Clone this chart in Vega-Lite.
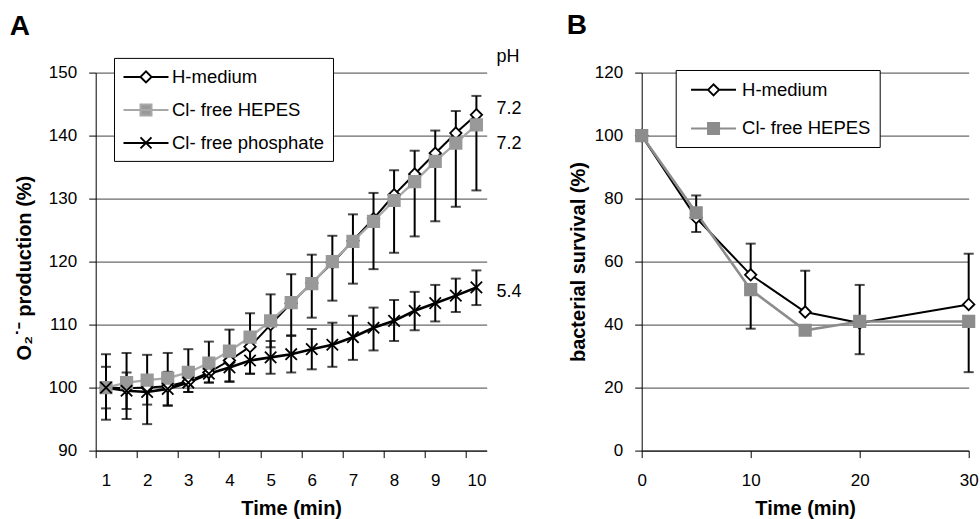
{
  "$schema": "https://vega.github.io/schema/vega-lite/v6.json",
  "padding": {"left": 9.7, "top": 11.6, "right": 0, "bottom": 0},
  "background": "#ffffff",
  "config": {
    "font": "Liberation Sans",
    "view": {"stroke": null},
    "axis": {
      "labelFont": "Liberation Sans", "labelFontSize": 17, "labelColor": "#000",
      "titleFont": "Liberation Sans", "titleFontSize": 20, "titleFontWeight": "bold", "titleColor": "#000",
      "domainColor": "#000", "domainWidth": 1, "tickColor": "#000", "tickWidth": 1, "tickSize": 7,
      "gridColor": "#444", "gridWidth": 1, "labelPadding": 12, "labelFlush": false, "labelOverlap": false
    },
    "axisX": {"grid": false, "labelPadding": 15, "titlePadding": 9.5}
  },
  "datasets": {
    "o2": [
      {"series": "H-medium", "time": 1, "value": 100.0, "lower": 100.0, "upper": 105.3},
      {"series": "H-medium", "time": 1.5, "value": 99.9, "lower": 99.9, "upper": 105.5},
      {"series": "H-medium", "time": 2, "value": 100.0, "lower": 100.0, "upper": 105.2},
      {"series": "H-medium", "time": 2.5, "value": 100.2, "lower": 100.2, "upper": 105.5},
      {"series": "H-medium", "time": 3, "value": 101.0, "lower": 101.0, "upper": 106.1},
      {"series": "H-medium", "time": 3.5, "value": 102.4, "lower": 102.4, "upper": 107.3},
      {"series": "H-medium", "time": 4, "value": 104.3, "lower": 104.3, "upper": 109.2},
      {"series": "H-medium", "time": 4.5, "value": 106.5, "lower": 106.5, "upper": 111.8},
      {"series": "H-medium", "time": 5, "value": 110.0, "lower": 110.0, "upper": 114.8},
      {"series": "H-medium", "time": 5.5, "value": 113.4, "lower": 113.4, "upper": 118.0},
      {"series": "H-medium", "time": 6, "value": 116.6, "lower": 116.6, "upper": 121.1},
      {"series": "H-medium", "time": 6.5, "value": 119.8, "lower": 119.8, "upper": 124.1},
      {"series": "H-medium", "time": 7, "value": 123.3, "lower": 123.3, "upper": 127.5},
      {"series": "H-medium", "time": 7.5, "value": 126.8, "lower": 126.8, "upper": 130.9},
      {"series": "H-medium", "time": 8, "value": 130.6, "lower": 130.6, "upper": 134.5},
      {"series": "H-medium", "time": 8.5, "value": 133.9, "lower": 133.9, "upper": 137.6},
      {"series": "H-medium", "time": 9, "value": 137.2, "lower": 137.2, "upper": 140.8},
      {"series": "H-medium", "time": 9.5, "value": 140.4, "lower": 140.4, "upper": 143.9},
      {"series": "H-medium", "time": 10, "value": 143.3, "lower": 143.3, "upper": 146.3},
      {"series": "Cl- free HEPES", "time": 1, "value": 100.0, "lower": 94.9, "upper": 100.0},
      {"series": "Cl- free HEPES", "time": 1.5, "value": 100.8, "lower": 95.0, "upper": 100.8},
      {"series": "Cl- free HEPES", "time": 2, "value": 101.2, "lower": 94.2, "upper": 101.2},
      {"series": "Cl- free HEPES", "time": 2.5, "value": 101.5, "lower": 97.2, "upper": 101.5},
      {"series": "Cl- free HEPES", "time": 3, "value": 102.4, "lower": 99.3, "upper": 102.4},
      {"series": "Cl- free HEPES", "time": 3.5, "value": 103.9, "lower": 100.8, "upper": 103.9},
      {"series": "Cl- free HEPES", "time": 4, "value": 105.8, "lower": 100.9, "upper": 105.8},
      {"series": "Cl- free HEPES", "time": 4.5, "value": 108.0, "lower": 102.2, "upper": 108.0},
      {"series": "Cl- free HEPES", "time": 5, "value": 110.6, "lower": 106.4, "upper": 110.6},
      {"series": "Cl- free HEPES", "time": 5.5, "value": 113.5, "lower": 108.3, "upper": 113.5},
      {"series": "Cl- free HEPES", "time": 6, "value": 116.5, "lower": 111.1, "upper": 116.5},
      {"series": "Cl- free HEPES", "time": 6.5, "value": 120.0, "lower": 113.8, "upper": 120.0},
      {"series": "Cl- free HEPES", "time": 7, "value": 123.2, "lower": 116.5, "upper": 123.2},
      {"series": "Cl- free HEPES", "time": 7.5, "value": 126.4, "lower": 118.8, "upper": 126.4},
      {"series": "Cl- free HEPES", "time": 8, "value": 129.7, "lower": 121.4, "upper": 129.7},
      {"series": "Cl- free HEPES", "time": 8.5, "value": 132.7, "lower": 124.0, "upper": 132.7},
      {"series": "Cl- free HEPES", "time": 9, "value": 135.9, "lower": 126.4, "upper": 135.9},
      {"series": "Cl- free HEPES", "time": 9.5, "value": 138.8, "lower": 128.7, "upper": 138.8},
      {"series": "Cl- free HEPES", "time": 10, "value": 141.7, "lower": 131.3, "upper": 141.7},
      {"series": "Cl- free phosphate", "time": 1, "value": 100.0, "lower": 96.7, "upper": 103.3},
      {"series": "Cl- free phosphate", "time": 1.5, "value": 99.5, "lower": 96.6, "upper": 102.4},
      {"series": "Cl- free phosphate", "time": 2, "value": 99.3, "lower": 97.3, "upper": 101.3},
      {"series": "Cl- free phosphate", "time": 2.5, "value": 99.8, "lower": 97.1, "upper": 102.5},
      {"series": "Cl- free phosphate", "time": 3, "value": 100.8, "lower": 99.3, "upper": 102.3},
      {"series": "Cl- free phosphate", "time": 3.5, "value": 102.2, "lower": 100.8, "upper": 103.6},
      {"series": "Cl- free phosphate", "time": 4, "value": 103.2, "lower": 101.0, "upper": 105.4},
      {"series": "Cl- free phosphate", "time": 4.5, "value": 104.3, "lower": 102.2, "upper": 106.4},
      {"series": "Cl- free phosphate", "time": 5, "value": 104.8, "lower": 102.2, "upper": 107.4},
      {"series": "Cl- free phosphate", "time": 5.5, "value": 105.3, "lower": 102.4, "upper": 108.2},
      {"series": "Cl- free phosphate", "time": 6, "value": 106.1, "lower": 102.9, "upper": 109.3},
      {"series": "Cl- free phosphate", "time": 6.5, "value": 106.8, "lower": 103.3, "upper": 110.3},
      {"series": "Cl- free phosphate", "time": 7, "value": 108.0, "lower": 104.4, "upper": 111.4},
      {"series": "Cl- free phosphate", "time": 7.5, "value": 109.5, "lower": 105.9, "upper": 112.7},
      {"series": "Cl- free phosphate", "time": 8, "value": 110.6, "lower": 107.4, "upper": 113.9},
      {"series": "Cl- free phosphate", "time": 8.5, "value": 112.2, "lower": 109.1, "upper": 115.2},
      {"series": "Cl- free phosphate", "time": 9, "value": 113.4, "lower": 110.5, "upper": 116.3},
      {"series": "Cl- free phosphate", "time": 9.5, "value": 114.6, "lower": 112.0, "upper": 117.3},
      {"series": "Cl- free phosphate", "time": 10, "value": 115.9, "lower": 113.1, "upper": 118.6}
    ],
    "ph": [
      {"label": "pH", "time": 10, "value": 152.4},
      {"label": "7.2", "time": 10, "value": 144.2},
      {"label": "7.2", "time": 10, "value": 138.6},
      {"label": "5.4", "time": 10, "value": 115.1}
    ],
    "surv": [
      {"series": "H-medium", "time": 0, "value": 100.0, "lower": 100.0, "upper": 100.0},
      {"series": "H-medium", "time": 5, "value": 73.9, "lower": 73.9, "upper": 81.0},
      {"series": "H-medium", "time": 10, "value": 55.8, "lower": 55.8, "upper": 65.7},
      {"series": "H-medium", "time": 15, "value": 44.0, "lower": 44.0, "upper": 57.1},
      {"series": "H-medium", "time": 20, "value": 40.5, "lower": 40.5, "upper": 52.6},
      {"series": "H-medium", "time": 30, "value": 46.4, "lower": 46.4, "upper": 62.5},
      {"series": "Cl- free HEPES", "time": 0, "value": 100.0, "lower": 100.0, "upper": 100.0},
      {"series": "Cl- free HEPES", "time": 5, "value": 75.5, "lower": 69.4, "upper": 75.5},
      {"series": "Cl- free HEPES", "time": 10, "value": 51.1, "lower": 38.7, "upper": 51.1},
      {"series": "Cl- free HEPES", "time": 15, "value": 38.2, "lower": 38.2, "upper": 38.2},
      {"series": "Cl- free HEPES", "time": 20, "value": 41.0, "lower": 30.6, "upper": 41.0},
      {"series": "Cl- free HEPES", "time": 30, "value": 41.0, "lower": 24.9, "upper": 41.0}
    ]
  },
  "bounds": "flush",
  "spacing": 155,
  "hconcat": [
    {
      "width": 391,
      "height": 378,
      "title": {"text": "A", "anchor": "start", "frame": "group", "dx": -86, "dy": 14.7, "offset": 0, "fontSize": 28, "fontWeight": "bold", "font": "Liberation Sans", "color": "#000", "baseline": "alphabetic"},
      "data": {"name": "o2"},
      "layer": [
        {
          "mark": {"type": "line"},
          "encoding": {
            "x": {"field": "time", "type": "quantitative", "title": "Time (min)",
                  "scale": {"domain": [0.75, 10.25], "nice": false, "zero": false},
                  "axis": {"values": [1, 2, 3, 4, 5, 6, 7, 8, 9, 10], "tickOffset": -10.29, "labelOffset": 10.29}},
            "y": {"field": "value", "type": "quantitative", "title": "O₂˙⁻ production (%)",
                  "scale": {"domain": [90, 150], "nice": false, "zero": false},
                  "axis": {"values": [90, 100, 110, 120, 130, 140, 150], "grid": true, "titlePadding": 14, "titleY": 195}},
            "stroke": {"field": "series", "type": "nominal", "legend": null,
                       "scale": {"domain": ["H-medium", "Cl- free HEPES", "Cl- free phosphate"], "range": ["#000000", "#a8a8a8", "#000000"]}},
            "strokeWidth": {"field": "series", "type": "nominal", "legend": null,
                            "scale": {"domain": ["H-medium", "Cl- free HEPES", "Cl- free phosphate"], "range": [2, 2.6, 2]}}
          }
        },
        {
          "mark": {"type": "errorbar", "color": "#000", "ticks": {"size": 10, "thickness": 2, "color": "#000"}, "rule": {"strokeWidth": 2, "color": "#000"}},
          "encoding": {
            "x": {"field": "time", "type": "quantitative", "title": "Time (min)"},
            "y": {"field": "lower", "type": "quantitative", "title": "O₂˙⁻ production (%)"},
            "y2": {"field": "upper"}
          }
        },
        {
          "mark": {"type": "point", "filled": true, "opacity": 1, "size": 130, "strokeWidth": 1.8},
          "encoding": {
            "x": {"field": "time", "type": "quantitative", "title": "Time (min)"},
            "y": {"field": "value", "type": "quantitative", "title": "O₂˙⁻ production (%)"},
            "shape": {"field": "series", "type": "nominal", "legend": null,
                      "scale": {"domain": ["H-medium", "Cl- free HEPES", "Cl- free phosphate"], "range": ["M-1,0L0,-1L1,0L0,1Z", "square", "M-1,-1L1,1M-1,1L1,-1"]}},
            "fill": {"field": "series", "type": "nominal", "legend": null,
                     "scale": {"domain": ["H-medium", "Cl- free HEPES", "Cl- free phosphate"], "range": ["#ffffff", "#999999", "transparent"]}},
            "stroke": {"field": "series", "type": "nominal", "legend": null,
                       "scale": {"domain": ["H-medium", "Cl- free HEPES", "Cl- free phosphate"], "range": ["#000000", "#999999", "#000000"]}}
          }
        },
        {
          "transform": [{"filter": "false"}],
          "mark": {"type": "point", "filled": true, "opacity": 1, "size": 400, "strokeWidth": 2},
          "encoding": {
            "shape": {"field": "series", "type": "nominal",
                      "scale": {"domain": ["H-medium", "Cl- free HEPES", "Cl- free phosphate"], "range": ["M-2.25,0L-0.55,0M0.55,0L2.25,0M-0.55,0L0,-0.55L0.55,0L0,0.55Z", "M-2.25,0L2.25,0M-0.55,-0.55L0.55,-0.55L0.55,0.55L-0.55,0.55Z", "M-2.25,0L2.25,0M-0.55,-0.55L0.55,0.55M-0.55,0.55L0.55,-0.55"]},
                      "legend": {"title": null, "orient": "none", "legendX": 18.3, "legendY": -14.7, "fillColor": "#ffffff", "strokeColor": "#000000", "padding": 8, "rowPadding": 12, "symbolOffset": 13, "labelOffset": 15, "labelFontSize": 18.5, "labelFont": "Liberation Sans", "labelColor": "#000", "symbolSize": 400, "symbolStrokeWidth": 2, "symbolOpacity": 1, "labelLimit": 400}},
            "fill": {"field": "series", "type": "nominal",
                     "scale": {"domain": ["H-medium", "Cl- free HEPES", "Cl- free phosphate"], "range": ["#ffffff", "#999999", "transparent"]},
                     "legend": {"title": null, "orient": "none", "legendX": 18.3, "legendY": -14.7, "fillColor": "#ffffff", "strokeColor": "#000000", "padding": 8, "rowPadding": 12, "symbolOffset": 13, "labelOffset": 15, "labelFontSize": 18.5, "labelFont": "Liberation Sans", "labelColor": "#000", "symbolSize": 400, "symbolStrokeWidth": 2, "symbolOpacity": 1, "labelLimit": 400}},
            "stroke": {"field": "series", "type": "nominal",
                       "scale": {"domain": ["H-medium", "Cl- free HEPES", "Cl- free phosphate"], "range": ["#000000", "#a8a8a8", "#000000"]},
                       "legend": {"title": null, "orient": "none", "legendX": 18.3, "legendY": -14.7, "fillColor": "#ffffff", "strokeColor": "#000000", "padding": 8, "rowPadding": 12, "symbolOffset": 13, "labelOffset": 15, "labelFontSize": 18.5, "labelFont": "Liberation Sans", "labelColor": "#000", "symbolSize": 400, "symbolStrokeWidth": 2, "symbolOpacity": 1, "labelLimit": 400}}
          }
        },
        {
          "data": {"name": "ph"},
          "mark": {"type": "text", "align": "left", "baseline": "middle", "dx": 20, "fontSize": 18, "font": "Liberation Sans", "color": "#000"},
          "encoding": {
            "x": {"field": "time", "type": "quantitative", "title": "Time (min)"},
            "y": {"field": "value", "type": "quantitative", "title": "O₂˙⁻ production (%)"},
            "text": {"field": "label", "type": "nominal"}
          }
        }
      ],
      "resolve": {"scale": {"stroke": "independent", "fill": "independent", "shape": "independent", "strokeWidth": "independent"}}
    },
    {
      "width": 327,
      "height": 378,
      "title": {"text": "B", "anchor": "start", "frame": "group", "dx": -75, "dy": -1.8, "offset": 0, "fontSize": 28, "fontWeight": "bold", "font": "Liberation Sans", "color": "#000", "baseline": "alphabetic"},
      "data": {"name": "surv"},
      "layer": [
        {
          "mark": {"type": "line"},
          "encoding": {
            "x": {"field": "time", "type": "quantitative", "title": "Time (min)",
                  "scale": {"domain": [0, 30], "nice": false},
                  "axis": {"values": [0, 10, 20, 30]}},
            "y": {"field": "value", "type": "quantitative", "title": "bacterial survival (%)",
                  "scale": {"domain": [0, 120], "nice": false},
                  "axis": {"values": [0, 20, 40, 60, 80, 100, 120], "grid": true, "titlePadding": 6}},
            "stroke": {"field": "series", "type": "nominal", "legend": null,
                       "scale": {"domain": ["H-medium", "Cl- free HEPES"], "range": ["#000000", "#8c8c8c"]}},
            "strokeWidth": {"field": "series", "type": "nominal", "legend": null,
                            "scale": {"domain": ["H-medium", "Cl- free HEPES"], "range": [2, 2.6]}}
          }
        },
        {
          "mark": {"type": "errorbar", "color": "#000", "ticks": {"size": 10, "thickness": 2, "color": "#000"}, "rule": {"strokeWidth": 2, "color": "#000"}},
          "encoding": {
            "x": {"field": "time", "type": "quantitative", "title": "Time (min)"},
            "y": {"field": "lower", "type": "quantitative", "title": "bacterial survival (%)"},
            "y2": {"field": "upper"}
          }
        },
        {
          "mark": {"type": "point", "filled": true, "opacity": 1, "size": 130, "strokeWidth": 1.8},
          "encoding": {
            "x": {"field": "time", "type": "quantitative", "title": "Time (min)"},
            "y": {"field": "value", "type": "quantitative", "title": "bacterial survival (%)"},
            "shape": {"field": "series", "type": "nominal", "legend": null,
                      "scale": {"domain": ["H-medium", "Cl- free HEPES"], "range": ["M-1,0L0,-1L1,0L0,1Z", "square"]}},
            "fill": {"field": "series", "type": "nominal", "legend": null,
                     "scale": {"domain": ["H-medium", "Cl- free HEPES"], "range": ["#ffffff", "#8c8c8c"]}},
            "stroke": {"field": "series", "type": "nominal", "legend": null,
                       "scale": {"domain": ["H-medium", "Cl- free HEPES"], "range": ["#000000", "#8c8c8c"]}}
          }
        },
        {
          "transform": [{"filter": "false"}],
          "mark": {"type": "point", "filled": true, "opacity": 1, "size": 400, "strokeWidth": 2},
          "encoding": {
            "shape": {"field": "series", "type": "nominal",
                      "scale": {"domain": ["H-medium", "Cl- free HEPES"], "range": ["M-2.25,0L-0.55,0M0.55,0L2.25,0M-0.55,0L0,-0.55L0.55,0L0,0.55Z", "M-2.25,0L2.25,0M-0.55,-0.55L0.55,-0.55L0.55,0.55L-0.55,0.55Z"]},
                      "legend": {"title": null, "orient": "none", "legendX": 34, "legendY": -2.6, "fillColor": "#ffffff", "strokeColor": "#000000", "padding": 8.85, "rowPadding": 17.6, "symbolOffset": 18, "labelOffset": 17.5, "labelFontSize": 18.5, "labelFont": "Liberation Sans", "labelColor": "#000", "symbolSize": 400, "symbolStrokeWidth": 2, "symbolOpacity": 1, "labelLimit": 400}},
            "fill": {"field": "series", "type": "nominal",
                     "scale": {"domain": ["H-medium", "Cl- free HEPES"], "range": ["#ffffff", "#8c8c8c"]},
                     "legend": {"title": null, "orient": "none", "legendX": 34, "legendY": -2.6, "fillColor": "#ffffff", "strokeColor": "#000000", "padding": 8.85, "rowPadding": 17.6, "symbolOffset": 18, "labelOffset": 17.5, "labelFontSize": 18.5, "labelFont": "Liberation Sans", "labelColor": "#000", "symbolSize": 400, "symbolStrokeWidth": 2, "symbolOpacity": 1, "labelLimit": 400}},
            "stroke": {"field": "series", "type": "nominal",
                       "scale": {"domain": ["H-medium", "Cl- free HEPES"], "range": ["#000000", "#8c8c8c"]},
                       "legend": {"title": null, "orient": "none", "legendX": 34, "legendY": -2.6, "fillColor": "#ffffff", "strokeColor": "#000000", "padding": 8.85, "rowPadding": 17.6, "symbolOffset": 18, "labelOffset": 17.5, "labelFontSize": 18.5, "labelFont": "Liberation Sans", "labelColor": "#000", "symbolSize": 400, "symbolStrokeWidth": 2, "symbolOpacity": 1, "labelLimit": 400}}
          }
        }
      ],
      "resolve": {"scale": {"stroke": "independent", "fill": "independent", "shape": "independent", "strokeWidth": "independent"}}
    }
  ]
}
